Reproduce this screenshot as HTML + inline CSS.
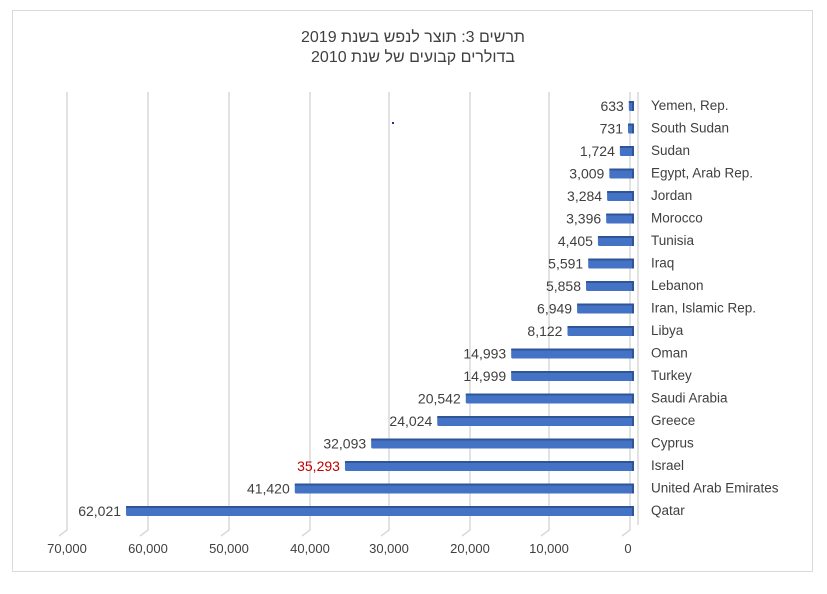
<!DOCTYPE html>
<html><head><meta charset="utf-8"><style>
body{margin:0;background:#fff}
text{font-family:"Liberation Sans","Noto Sans CJK SC",sans-serif}
</style></head><body>
<svg width="827" height="589" xmlns="http://www.w3.org/2000/svg">
<rect x="12.5" y="10.5" width="800" height="561" fill="#fff" stroke="#d9d9d9"/>
<text x="413" y="42" font-size="16" text-anchor="middle" fill="#404040" direction="rtl">תרשים 3: תוצר לנפש בשנת 2019</text>
<text x="413" y="62" font-size="16" text-anchor="middle" fill="#404040" direction="rtl">בדולרים קבועים של שנת 2010</text>
<g stroke="#d9d9d9" stroke-width="1.5" fill="none">
<path d="M67,92V530l-8,6M148,92V530l-8,6M229,92V530l-8,6M310,92V530l-8,6M389,92V530l-8,6M470,92V530l-8,6M549,92V530l-8,6M630,92V530l-8,6M638,92V525"/>
</g>
<g font-size="13" fill="#404040" text-anchor="middle">
<text x="67" y="553">70,000</text><text x="148" y="553">60,000</text><text x="229" y="553">50,000</text><text x="310" y="553">40,000</text><text x="389" y="553">30,000</text><text x="470" y="553">20,000</text><text x="549" y="553">10,000</text><text x="628" y="553">0</text>
</g>
<g id="bars"></g>
<rect x="392" y="122" width="2" height="2" fill="#2030a0"/>
</svg>
<script>
var d=[["Yemen, Rep.",633],["South Sudan",731],["Sudan",1724],["Egypt, Arab Rep.",3009],["Jordan",3284],["Morocco",3396],["Tunisia",4405],["Iraq",5591],["Lebanon",5858],["Iran, Islamic Rep.",6949],["Libya",8122],["Oman",14993],["Turkey",14999],["Saudi Arabia",20542],["Greece",24024],["Cyprus",32093],["Israel",35293],["United Arab Emirates",41420],["Qatar",62021]];
var g=document.getElementById('bars'),h='';
d.forEach(function(r,i){var y=106+i*22.5,w=r[1]*0.00819,x=634-w;
h+='<rect x="'+x+'" y="'+(y-5)+'" width="'+w+'" height="10" rx="1.5" fill="#4472c4"/>';
h+='<rect x="'+x+'" y="'+(y-5)+'" width="'+w+'" height="2" fill="#2f5597"/>';
h+='<rect x="'+(x+w-2)+'" y="'+(y-5)+'" width="2" height="10" fill="#2f5597"/>';
h+='<text x="'+(x-5)+'" y="'+(y+5)+'" font-size="14" text-anchor="end" fill="'+(r[0]=="Israel"?"#c00000":"#404040")+'">'+r[1].toLocaleString('en-US')+'</text>';
h+='<text x="651" y="'+(y+4)+'" font-size="13.5" fill="#404040">'+r[0]+'</text>';});
g.innerHTML=h;
</script>
</body></html>
